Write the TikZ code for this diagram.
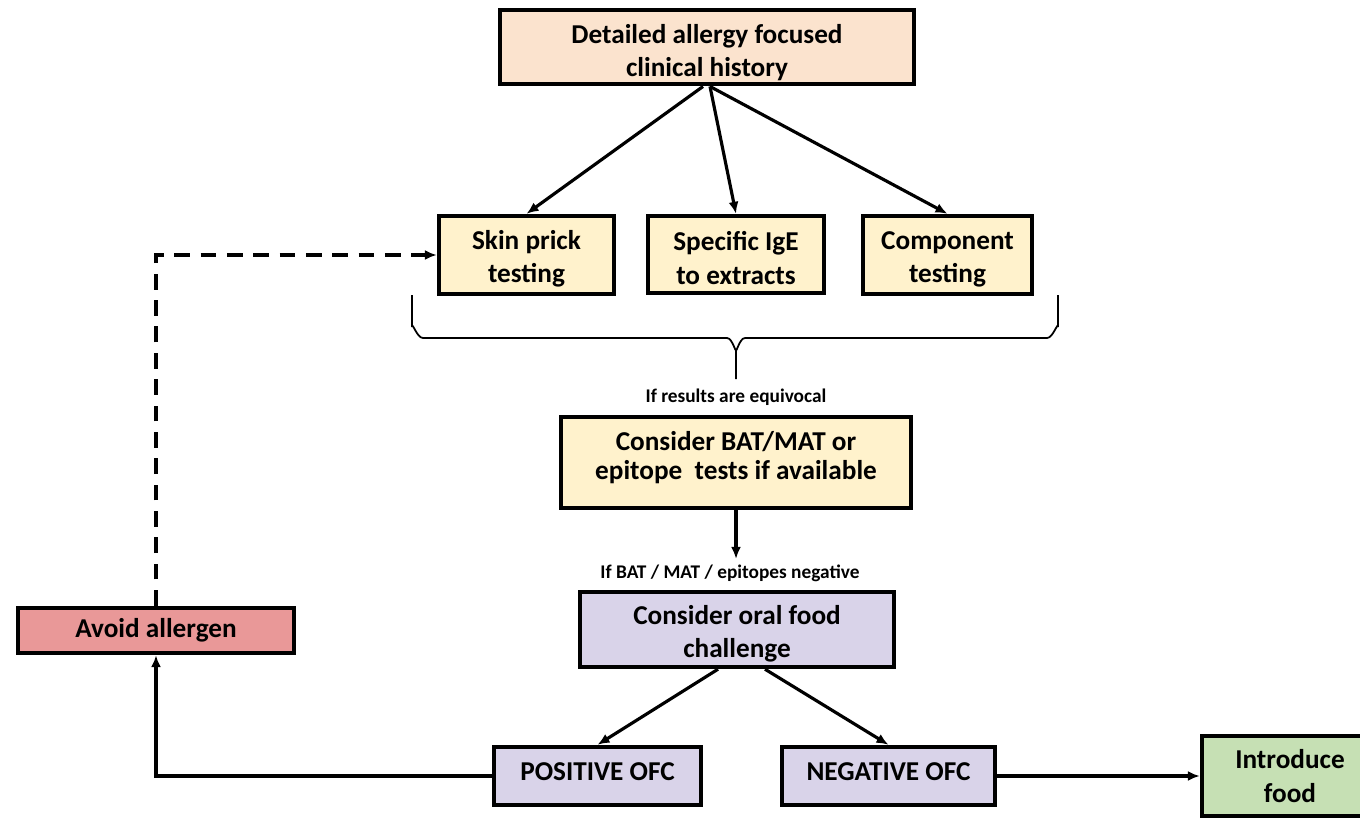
\documentclass[tikz,border=0pt]{standalone}
\usepackage{fontspec}
\setmainfont{Carlito}
\usetikzlibrary{arrows.meta}

\definecolor{peach}{HTML}{FBE3CE}
\definecolor{cream}{HTML}{FFF2CC}
\definecolor{lilac}{HTML}{D9D3E9}
\definecolor{rose}{HTML}{E99898}
\definecolor{mint}{HTML}{C6E0B4}

\tikzset{
  box/.style={draw=black, line width=2.5pt, align=center, inner sep=2pt,
    font=\fontsize{15.5}{19}\selectfont\bfseries},
  drop/.style={execute at begin node={\rule{0pt}{#1}}},
  lift/.style={execute at end node={\rule[-#1]{0pt}{0pt}}},
  note/.style={font=\fontsize{11}{13}\selectfont\bfseries, inner sep=3pt},
  link/.style={line width=1.8pt, -{Latex[length=0.24cm,width=0.2cm]}}
}

\begin{document}
\begin{tikzpicture}[x=0.02cm,y=-0.02cm]
\useasboundingbox (0,0) rectangle (1360,818);

% boxes
\node[box, drop=36pt, fill=peach, minimum width=8.28cm, minimum height=1.44cm] (hist) at (707,47) {Detailed allergy focused\\clinical history};
\node[box, drop=34pt, fill=cream, minimum width=3.5cm, minimum height=1.56cm] (skin) at (526.5,255) {Skin prick\\testing};
\node[box, drop=34pt, fill=cream, minimum width=3.52cm, minimum height=1.54cm] (ige) at (736,254.5) {Specific IgE\\to extracts};
\node[box, drop=34pt, fill=cream, minimum width=3.38cm, minimum height=1.56cm] (comp) at (947.5,255) {Component\\testing};
\node[box, lift=8pt, font=\fontsize{15.5}{17}\selectfont\bfseries, fill=cream, minimum width=7.0cm, minimum height=1.82cm] (bat) at (736,462.5) {Consider BAT/MAT or\\epitope\ \ tests if available};
\node[box, drop=34.5pt, fill=lilac, minimum width=6.28cm, minimum height=1.5cm] (ofc) at (737,629.5) {Consider oral food\\challenge};
\node[box, lift=4.5pt, fill=lilac, minimum width=4.14cm, minimum height=1.16cm] (pos) at (597.5,776) {POSITIVE OFC};
\node[box, lift=4.5pt, fill=lilac, minimum width=4.26cm, minimum height=1.16cm] (neg) at (888.5,776) {NEGATIVE OFC};
\node[box, fill=mint, minimum width=3.52cm, minimum height=1.6cm] (food) at (1290,776) {Introduce\\food};
\node[box, fill=rose, minimum width=5.52cm, minimum height=0.9cm] (avoid) at (156,630.5) {Avoid allergen};

% labels
\node[note] (equiv) at (736,397) {If results are equivocal};
\node[note] (neglbl) at (730,573) {If BAT / MAT / epitopes negative};

% brace under the tests
\draw[line width=1pt] (412,295) -- (412,327) to[out=90,in=180] (423,338) -- (727,338)
  to[out=0,in=-90] (736,349) -- (736,379);
\draw[line width=1pt] (736,349) to[out=-90,in=180] (745,338) -- (1047,338)
  to[out=0,in=90] (1058,327) -- (1058,295);

% connectors
\draw[link] ([xshift=-0.08cm]hist.south) -- (skin.north);
\draw[link] ([xshift=0.06cm]hist.south) -- (ige.north);
\draw[link] ([xshift=0.06cm]hist.south) -- (comp.north);
\draw[link] (bat.south) -- (bat.south |- neglbl.north);
\draw[link] ([xshift=-0.38cm]ofc.south) -- (pos.north);
\draw[link] ([xshift=0.56cm]ofc.south) -- (neg.north);
\draw[link] (pos.west) -| (avoid.south);
\draw[link] (neg.east) -- (food.west);
\draw[link, dashed, dash pattern=on 9pt off 6pt] (avoid.north) |- (skin.west);

\end{tikzpicture}
\end{document}
